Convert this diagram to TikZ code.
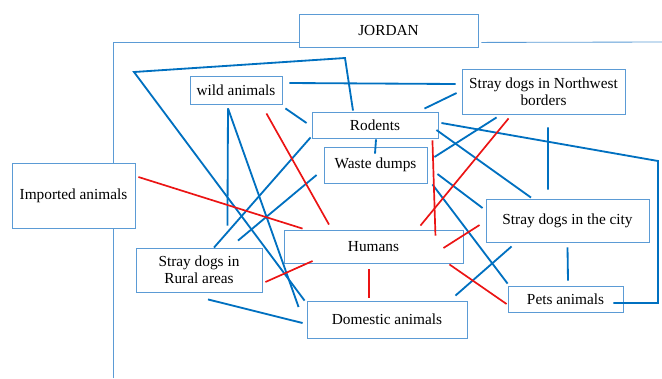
\documentclass[tikz,border=0pt]{standalone}
\usepackage{fontspec}
\setmainfont{Liberation Serif}
\usetikzlibrary{calc}
\definecolor{boxblue}{RGB}{91,155,213}
\definecolor{lineblue}{RGB}{0,112,192}
\definecolor{linered}{RGB}{235,20,20}
\tikzset{
	box/.style={draw=boxblue, line width=0.6pt, fill=white, inner sep=0pt, align=center, font=\fontsize{10.9pt}{11.8pt}\selectfont},
	frame/.style={draw=boxblue, line width=0.6pt},
	link/.style={draw=lineblue, line width=1.3pt},
	risk/.style={draw=linered, line width=1.2pt}
}
\begin{document}
\begin{tikzpicture}[x=0.025cm, y=-0.025cm]
		\useasboundingbox (0,0) rectangle (662,378);
		
		% Cajas
		\node[box, minimum width=4.475cm, minimum height=0.825cm] (jordan) at (388.5,30.5) {JORDAN};
		\draw[frame] (113,378) |- ($(jordan.south west)+(0,-5)$);
		\draw[frame] ($(jordan.south east)+(3,-5)$) -- (662,42);
		\node[box, minimum width=3.075cm, minimum height=1.625cm] (imported) at (73.5,195.5) {Imported animals};
		\node[box, minimum width=2.3cm, minimum height=0.7cm] (wild) at (236,90) {wild animals};
		\node[box, minimum width=4.075cm, minimum height=1.125cm] (border) at (543.5,91.5) {Stray dogs in Northwest\\borders};
		\node[box, minimum width=3.15cm, minimum height=0.65cm] (rodents) at (375,125) {Rodents};
		\node[box, minimum width=2.575cm, minimum height=0.9cm] (waste) at (375.5,165) {Waste dumps};
		\node[box, minimum width=4.075cm, minimum height=1.075cm] (city) at (567.5,220.5) {Stray dogs in the city};
		\node[box, minimum width=4.475cm, minimum height=0.825cm] (humans) at (373.5,246.5) {Humans};
		\node[box, minimum width=3.15cm, minimum height=1.1cm] (rural) at (199,270) {Stray dogs in\\Rural areas};
		\node[box, minimum width=4cm, minimum height=0.925cm] (domestic) at (387,319.5) {Domestic animals};
		\node[box, minimum width=2.875cm, minimum height=0.65cm] (pets) at (565.5,299) {Pets animals};
		
		% Puntos libres
		\coordinate (topbend) at (345,58);
		\coordinate (leftbend) at (134,72);
		\coordinate (rim) at (658,161);
		
		% Lineas azules
		\draw[link] ($(rodents.north)+(-22,-1)$) -- (topbend) -- (leftbend) -- ($(domestic.north west)+(-2,0)$);
		\draw[link] ($(wild.south)+(-8,4)$) -- ($(domestic.west)+(-8,-12.5)$);
		\draw[link] ($(wild.south)+(-8,4)$) -- ($(rural.north east)+(-35,-22)$);
		\draw[link] ($(wild.east)+(7,-7)$) -- ($(border.west)+(-6,-7.5)$);
		\draw[link] ($(wild.south east)+(3,4)$) -- ($(rodents.west)+(-5,-2)$);
		\draw[link] ($(border.west)+(-5,1.5)$) -- ($(rodents.north east)+(-14,-3)$);
		\draw[link] ($(rodents.east)+(3,-2)$) -- (rim) |- ($(pets.east)+(-10,4)$);
		\draw[link] ($(rodents.east)+(-2,5)$) -- ($(city.north)+(-36.5,-1)$);
		\draw[link] ($(border.south)+(4.5,13)$) -- ($(city.north)+(-19.5,-9)$);
		\draw[link] ($(border.south west)+(35,3)$) -- ($(waste.east)+(7,-8)$);
		\draw[link] ($(waste.east)+(10,9)$) -- ($(city.west)+(-3,-12.5)$);
		\draw[link] ($(waste.south east)+(5,1)$) -- ($(pets.north west)+(0,-2)$);
		\draw[link] ($(rodents.south)+(1,1)$) -- ($(waste.north)+(-0.5,7)$);
		\draw[link] ($(rodents.south west)+(-1,-1)$) -- ($(rural.north)+(15,0)$);
		\draw[link] ($(waste.west)+(-7,10)$) -- ($(rural.north)+(39,-7)$);
		\draw[link] ($(rural.south)+(9,7)$) -- ($(domestic.west)+(-4,3.5)$);
		\draw[link] ($(city.south)+(0,5)$) -- ($(pets.north)+(2.5,-5)$);
		\draw[link] ($(city.south west)+(26,4)$) -- ($(domestic.north east)+(-12,-5)$);
		
		% Lineas rojas
		\draw[risk] ($(imported.east)+(3,-18.5)$) -- ($(humans.north west)+(19,-1)$);
		\draw[risk] ($(wild.south east)+(-16,9)$) -- ($(humans.north)+(-44.5,-5)$);
		\draw[risk] ($(rodents.south east)+(-6,2)$) -- ($(humans.north east)+(-28,6)$);
		\draw[risk] ($(border.south west)+(47,4)$) -- ($(humans.north east)+(-43,-4)$);
		\draw[risk] ($(humans.east)+(-20,1.5)$) -- ($(city.west)+(-6,4.5)$);
		\draw[risk] ($(humans.south east)+(-14,1)$) -- ($(pets.west)+(-1,5)$);
		\draw[risk] ($(humans.south)+(-4.5,6)$) -- ($(domestic.north)+(-18,-3)$);
		\draw[risk] ($(rural.east)+(3,12)$) -- ($(humans.west)+(29,14.5)$);
	\end{tikzpicture}
\end{document}
